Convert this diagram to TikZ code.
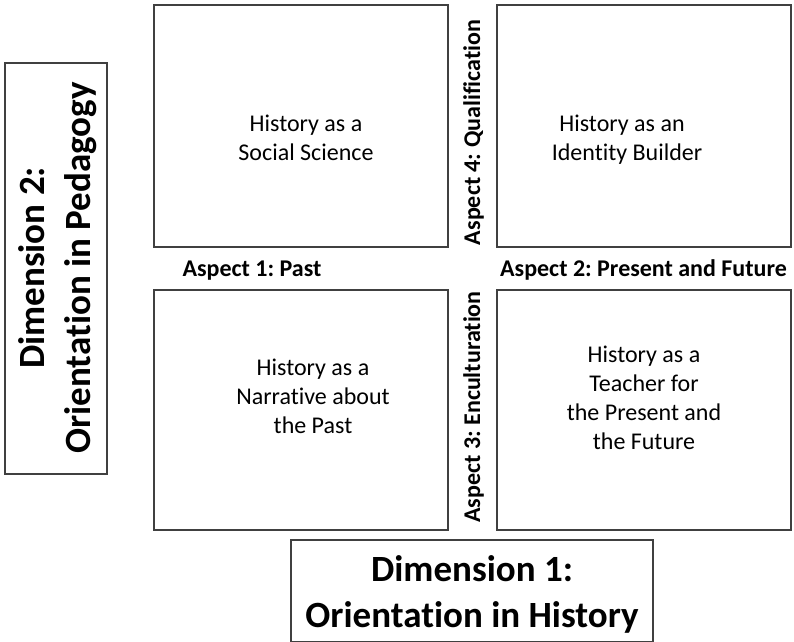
\documentclass[tikz,border=0pt]{standalone}
\usepackage{fontspec}
\setmainfont{Carlito}[Ligatures={NoCommon,NoContextual}]
\frenchspacing
\definecolor{frame}{RGB}{64,64,64}
\begin{document}
\begin{tikzpicture}[x=1pt,y=-1pt,
  box/.style={draw=frame,line width=1.3pt,inner sep=0pt,outer sep=0pt},
  cell/.style={align=center,inner sep=0pt,font=\fontsize{24}{29}\selectfont},
  aspect/.style={inner sep=0pt,font=\fontsize{24}{29}\selectfont\bfseries},
  dimtext/.style={align=center,inner sep=0pt,font=\fontsize{37}{46}\selectfont\bfseries}]
\useasboundingbox[fill=white] (0,0) rectangle (794,641);
% quadrant boxes
\node[box,minimum width=294pt,minimum height=242pt] (tl) at (301,126) {};
\node[box,minimum width=294pt,minimum height=242pt] (tr) at (644,126) {};
\node[box,minimum width=294pt,minimum height=240pt] (bl) at (301,410) {};
\node[box,minimum width=294pt,minimum height=240pt] (br) at (644,410) {};
% dimension boxes
\node[box,minimum width=102pt,minimum height=411pt] (dimtwo) at (56,268.5) {};
\node[box,minimum width=362pt,minimum height=102pt] (dimone) at (472,591) {};
% cell texts
\node[cell] (tltext) at (306,137.5) {History as a\\Social Science};
\node[cell] (trtext) at (627,140) {History as an\rule{10pt}{0pt}\\Identity Builder};
\node[cell] (bltext) at (313,396) {History as a\\Narrative about\\the Past};
\node[cell] (brtext) at (644,397.5) {History as a\\Teacher for\\the Present and\\the Future};
% aspect labels
\node[aspect,anchor=base] (a1) at (252,276) {Aspect 1: Past};
\node[aspect,anchor=base] (a2) at (643.5,276) {Aspect 2: Present and Future};
\node[aspect,anchor=base,rotate=90] (a4) at (480,132.5) {Aspect 4: Qualification};
\node[aspect,anchor=base,rotate=90] (a3) at (480,407) {Aspect 3: Enculturation};
% dimension texts
\node[dimtext,rotate=90] (d2text) at (58,268) {Dimension 2:\\Orientation in Pedagogy};
\node[dimtext] (d1text) at (472,594) {Dimension 1:\\Orientation in History};
\end{tikzpicture}
\end{document}
